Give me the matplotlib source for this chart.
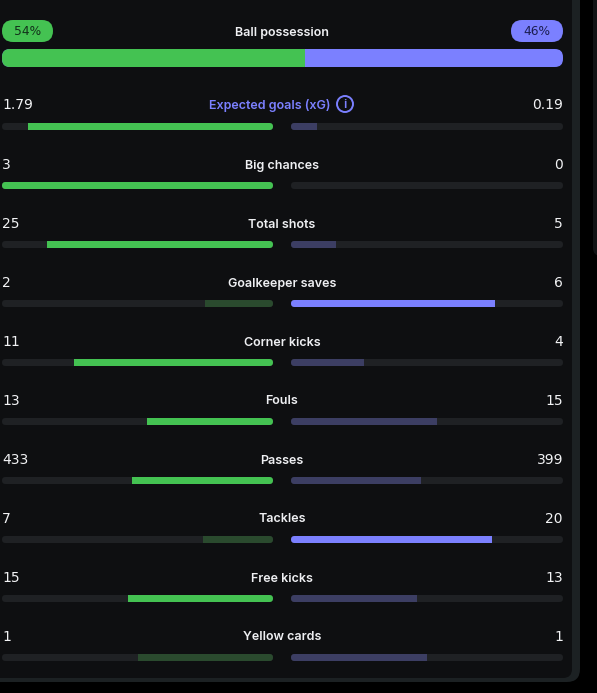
import matplotlib
matplotlib.use('Agg')
import matplotlib.pyplot as plt
from matplotlib import patches

categories = ['Expected goals (xG)', 'Big chances', 'Total shots', 'Goalkeeper saves', 'Corner kicks',
              'Fouls', 'Passes', 'Tackles', 'Free kicks', 'Yellow cards']
home_labels = ['1.79', '3', '25', '2', '11', '13', '433', '7', '15', '1']
away_labels = ['0.19', '0', '5', '6', '4', '15', '399', '20', '13', '1']
home_values = [1.79, 3, 25, 2, 11, 13, 433, 7, 15, 1]
away_values = [0.19, 0, 5, 6, 4, 15, 399, 20, 13, 1]
home_bright = [True, True, True, False, True, True, True, False, True, False]
away_bright = [False, False, False, True, False, False, False, True, False, False]
possession = [54, 46]

GREEN = '#44c252'
BLUE = '#7b80ff'
GREEN_DIM = '#2a4a2e'
BLUE_DIM = '#3c3e63'
TRACK = '#1f2124'
BG = '#0e0f11'

plt.rcParams['font.family'] = ['Inter', 'DejaVu Sans']

fig = plt.figure(figsize=(5.97, 6.93), dpi=100, facecolor='black')
ax = fig.add_axes([0, 0, 1, 1])
ax.set_xlim(0, 597)
ax.set_ylim(693, 0)
ax.axis('off')


def rounded(x0, y0, w, h, r, **kw):
    p = patches.FancyBboxPatch((x0 + r, y0 + r), w - 2 * r, h - 2 * r,
                               boxstyle='round,pad=%f,rounding_size=%f' % (r, r),
                               linewidth=0, **kw)
    ax.add_patch(p)
    return p


# panel and its border
rounded(-30, -30, 610, 712, 13, facecolor='#1c2123')
rounded(-30, -30, 602, 708, 9, facecolor=BG)
# bit of the next panel on the right edge
rounded(593, -30, 40, 286, 8, facecolor='#111315')

# possession
rounded(2, 20, 51, 22, 11, facecolor=GREEN)
rounded(511, 20, 52, 22, 11, facecolor=BLUE)
ax.text(27.5, 31.5, '%d%%' % possession[0], color='#12301a', fontsize=8.8, family='DejaVu Sans', ha='center', va='center')
ax.text(537, 31.5, '%d%%' % possession[1], color='#1b1d50', fontsize=8.8, family='DejaVu Sans', ha='center', va='center')
ax.text(282, 33, 'Ball possession', color='#eeeff2', fontsize=9, fontweight='semibold', ha='center', va='center')

clip = rounded(2, 49, 561, 18, 8, facecolor=BLUE)
split = 2 + 561 * possession[0] / sum(possession)
bars = ax.barh([58], [split - 2], left=2, height=18, color=GREEN)
bars[0].set_clip_path(clip)

# stat rows
for i, name in enumerate(categories):
    y = 126.5 + 59 * i
    # first row sits a bit higher because of the icon
    ty = y - 21.5 if i == 0 else y - 20.5
    total = home_values[i] + away_values[i]

    left_track = rounded(2, y - 3.5, 271, 7, 3.5, facecolor=TRACK)
    right_track = rounded(291, y - 3.5, 272, 7, 3.5, facecolor=TRACK)

    w = 271 * home_values[i] / total
    b = ax.barh([y], [w], left=273 - w, height=7, color=GREEN if home_bright[i] else GREEN_DIM)
    b[0].set_clip_path(left_track)
    w = 272 * away_values[i] / total
    b = ax.barh([y], [w], left=291, height=7, color=BLUE if away_bright[i] else BLUE_DIM)
    b[0].set_clip_path(right_track)

    ax.text(2, ty, home_labels[i], color='#f2f3f5', fontsize=10, family='DejaVu Sans', ha='left', va='center')
    ax.text(563, ty, away_labels[i], color='#f2f3f5', fontsize=10, family='DejaVu Sans', ha='right', va='center')
    if i == 0:
        ax.text(269.5, ty, name, color=BLUE, fontsize=9, fontweight='semibold', ha='center', va='center')
    else:
        ax.text(282, ty + 0.5, name, color='#eeeff2', fontsize=9, fontweight='semibold', ha='center', va='center')

# info icon next to xG
ax.add_patch(patches.Circle((345, 104), 8, fill=False, edgecolor=BLUE, linewidth=1.4))
ax.text(345, 104.5, 'i', color=BLUE, fontsize=9, fontweight='semibold', ha='center', va='center')

fig.savefig('out.png', dpi=100, facecolor=fig.get_facecolor())
